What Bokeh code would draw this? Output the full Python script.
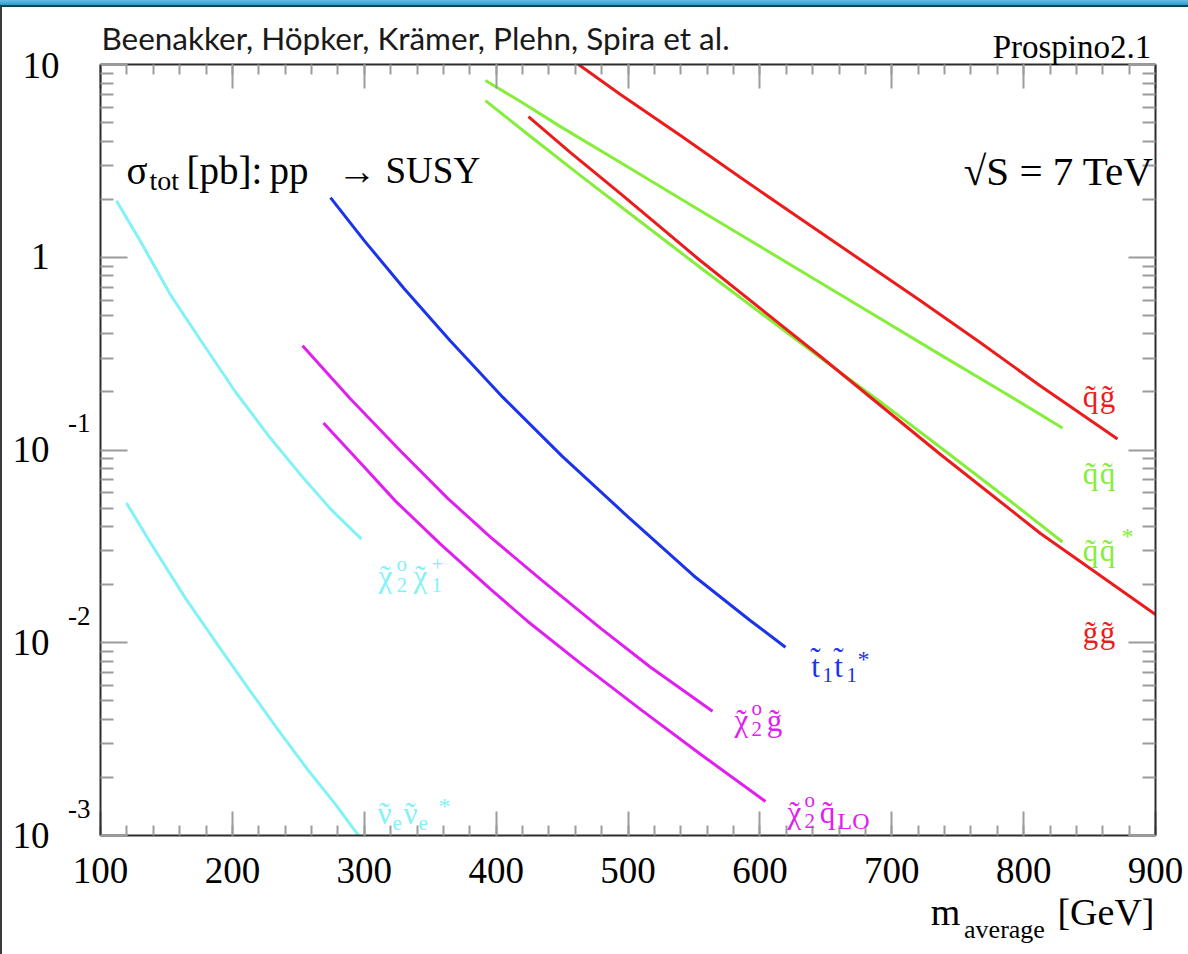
import math
from bokeh.plotting import figure
from bokeh.models import Range1d, FixedTicker, LinearAxis, LogAxis, Label, Div, CustomJSTickFormatter
from bokeh.layouts import column, row
from bokeh.embed import file_html
from bokeh.resources import INLINE

# ---------------- data ----------------
mass_qg = [462.5, 494.3, 539.8, 585.3, 630.8, 676.3, 721.8, 767.3, 812.8, 871.2]
xsec_qg = [10.0, 6.99, 4.28, 2.59, 1.585, 0.970, 0.594, 0.360, 0.215, 0.114]

mass_qq = [391.9, 418.5, 448.8, 494.3, 539.8, 585.3, 630.8, 683.9, 737.0, 782.5, 829.5]
xsec_qq = [8.26, 6.43, 4.76, 3.10, 2.01, 1.309, 0.851, 0.515, 0.3115, 0.2035, 0.1301]

mass_qqbar = [391.9, 426.1, 464.0, 509.5, 555.0, 600.5, 646.0, 691.5, 737.0, 782.5, 829.5]
xsec_qqbar = [6.50, 4.23, 2.65, 1.529, 0.882, 0.515, 0.3005, 0.1776, 0.1030, 0.0595, 0.0333]

mass_gg = [424.5, 456.4, 494.3, 555.0, 646.0, 737.0, 812.8, 900.0]
xsec_gg = [5.37, 3.49, 2.138, 0.959, 0.3055, 0.0948, 0.0369, 0.01402]

mass_stop = [274.4, 300.0, 330.0, 365.0, 405.0, 450.0, 500.0, 550.0, 592.9, 619.4]
xsec_stop = [2.038, 1.22, 0.690, 0.370, 0.188, 0.0930, 0.0450, 0.0222, 0.0130, 0.00948]

mass_n2g = [253.2, 289.6, 327.5, 363.1, 395.7, 433.6, 479.1, 517.1, 564.1]
xsec_n2g = [0.347, 0.184, 0.0988, 0.0563, 0.0353, 0.0214, 0.0119, 0.00746, 0.00441]

mass_n2q = [269.1, 297.2, 323.7, 357.8, 395.7, 423.8, 464.0, 509.5, 555.0, 604.3]
xsec_n2q = [0.1381, 0.0856, 0.0543, 0.0325, 0.01896, 0.01293, 0.00782, 0.00451, 0.00264, 0.00150]

mass_n2c1 = [112.1, 130.3, 153.0, 175.8, 202.4, 228.9, 251.7, 274.4, 297.9]
xsec_n2c1 = [1.966, 1.210, 0.640, 0.372, 0.200, 0.1150, 0.0745, 0.0495, 0.0345]

mass_snu = [119.7, 137.9, 164.5, 191.0, 213.7, 236.5, 257.0, 278.2, 295.6]
xsec_snu = [0.0531, 0.0330, 0.01700, 0.00930, 0.00560, 0.00340, 0.00220, 0.00145, 0.0010]

x_ticks = [100, 200, 300, 400, 500, 600, 700, 800, 900]
x_tick_labels = ["100", "200", "300", "400", "500", "600", "700", "800", "900"]
y_ticks = [1e-3, 1e-2, 1e-1, 1, 10]
y_exponents = ["-3", "-2", "-1"]
y_mantissa_low = ["10", "10", "10", "1"]   # for 1e-3, 1e-2, 1e-1, 1
y_mantissa_top = ["10"]                    # for 10

# ---------------- layout constants (final image pixels) ----------------
TOP_STRIP = 7
LEFT_BAR = 2
FL, FR, FT, FB = 100, 1155, 64, 835
W, H = 1188, 954

RED = "#ec1c1c"
GREEN = "#84ee3a"
BLUE = "#1b33ea"
MAG = "#e020ee"
CYAN = "#82f2f6"
SERIF = "Liberation Serif"
DEC = (FB - FT) / 4.0


def dx(xpx):
    return 100 + (xpx - FL) * 800.0 / (FR - FL)


def shift(v, px_up):
    return v * 10 ** (px_up / DEC)


p = figure(width=W - LEFT_BAR, height=H - TOP_STRIP,
           x_range=Range1d(100, 900), y_range=Range1d(1e-3, 10),
           y_axis_type="log", output_backend="svg", toolbar_location=None,
           min_border_left=FL - LEFT_BAR, min_border_right=W - FR,
           min_border_top=FT - TOP_STRIP, min_border_bottom=H - FB)
p.grid.visible = False
p.outline_line_color = None
p.background_fill_color = "white"
p.border_fill_color = "white"

xticker = FixedTicker(ticks=x_ticks, minor_ticks=list(range(100, 901, 20)))
yminor = [k * 10.0 ** e for e in range(-3, 1) for k in range(2, 10)]
yticker = FixedTicker(ticks=y_ticks, minor_ticks=yminor)


def frame_axis(ax, maj, mnr, ticker):
    ax.ticker = ticker
    ax.major_tick_in = maj
    ax.major_tick_out = 0
    ax.minor_tick_in = mnr
    ax.minor_tick_out = 0
    ax.major_tick_line_color = "#9c9c9c"
    ax.minor_tick_line_color = "#9c9c9c"
    ax.major_tick_line_width = 2
    ax.minor_tick_line_width = 2
    ax.axis_line_color = "#2d2d2d"
    ax.axis_line_width = 2
    ax.formatter = CustomJSTickFormatter(code="return ''")
    ax.major_label_standoff = 0
    ax.major_label_text_font_size = "0px"


def text_axis(ax, ticks, labels, size, standoff, font=SERIF, color="black"):
    ax.ticker = FixedTicker(ticks=ticks, minor_ticks=[])
    ax.formatter = CustomJSTickFormatter(args=dict(labs=labels), code="return labs[index]")
    ax.major_tick_in = 0
    ax.major_tick_out = 0
    ax.minor_tick_in = 0
    ax.minor_tick_out = 0
    ax.major_tick_line_color = None
    ax.minor_tick_line_color = None
    ax.axis_line_color = None
    ax.major_label_standoff = standoff
    ax.major_label_text_font = font
    ax.major_label_text_font_size = f"{size}px"
    ax.major_label_text_color = color
    return ax


frame_axis(p.xaxis[0], 24, 10, xticker)
frame_axis(p.yaxis[0], 27, 13, yticker)
top_ax = LinearAxis()
frame_axis(top_ax, 24, 10, xticker)
p.add_layout(top_ax, "above")
right_ax = LogAxis()
frame_axis(right_ax, 27, 13, yticker)
p.add_layout(right_ax, "right")

# bottom: tick labels, then axis title pieces
p.add_layout(text_axis(LinearAxis(), x_ticks, x_tick_labels, 37, 22), "below")
p.add_layout(text_axis(LinearAxis(), [dx(945), dx(1105.5)], ["m", "[GeV]"], 38, 5), "below")
p.add_layout(text_axis(LinearAxis(), [dx(1004)], ["average"], 26, -21), "below")

# left: exponents, mantissas
p.add_layout(text_axis(LogAxis(), [shift(v, 27) for v in y_ticks[:3]], y_exponents, 27, 10), "left")
p.add_layout(text_axis(LogAxis(), [shift(y_ticks[4], -1.0)], y_mantissa_top, 37, 6), "left")
p.add_layout(text_axis(LogAxis(), [shift(v, 0.4) for v in y_ticks[:4]], y_mantissa_low, 37, -30), "left")

# top: Prospino tag and authors
p.add_layout(text_axis(LinearAxis(), [dx(1071.5)], ["Prospino2.1"], 33, 0), "above")
p.add_layout(text_axis(LinearAxis(), [dx(415)], ["Beenakker, Höpker, Krämer, Plehn, Spira et al."], 31.5, -31,
                       font="Lato", color="#1a1a1a"), "above")

# ---------------- curves ----------------
LW = 3
p.line(mass_qg, xsec_qg, line_color=RED, line_width=LW)
p.line(mass_qq, xsec_qq, line_color=GREEN, line_width=LW)
p.line(mass_qqbar, xsec_qqbar, line_color=GREEN, line_width=LW)
p.line(mass_gg, xsec_gg, line_color=RED, line_width=LW)
p.line(mass_stop, xsec_stop, line_color=BLUE, line_width=LW)
p.line(mass_n2g, xsec_n2g, line_color=MAG, line_width=LW)
p.line(mass_n2q, xsec_n2q, line_color=MAG, line_width=LW)
p.line(mass_n2c1, xsec_n2c1, line_color=CYAN, line_width=LW)
p.line(mass_snu, xsec_snu, line_color=CYAN, line_width=LW)


def txt(xpx, ypx, text, size, color="black", font=SERIF, align="left"):
    # positioned in canvas pixels of the figure (origin top-left)
    p.add_layout(Label(x=xpx - LEFT_BAR, y=ypx - TOP_STRIP, x_units="canvas", y_units="canvas",
                       text=text, text_font=font,
                       text_font_size=f"{size}px", text_color=color,
                       text_align=align, text_baseline="alphabetic"))


def tl(xc, ypx, ch, size, color):
    # a letter with a tilde above it (centred)
    txt(xc, ypx, ch, size, color, align="center")
    txt(xc, ypx - (8 if ch == "t" else 0), "\u02dc", size, color, align="center")


# ---------------- in-frame titles ----------------
txt(126, 170, "σ", 39)
txt(149, 180, "tot", 28)
txt(186, 170, "[pb]:", 39)
txt(269, 170, "pp", 39)
txt(337, 170, "→", 39)
txt(385, 170, "SUSY", 37)
txt(1153, 170, "√S = 7 TeV", 41, align="right")

# ---------------- curve labels ----------------
S1, S2 = 31, 21
tl(1090, 396, "q", S1, RED); tl(1107, 396, "g", S1, RED)
tl(1090, 473, "q", S1, GREEN); tl(1107, 473, "q", S1, GREEN)
tl(1090, 550, "q", S1, GREEN); tl(1107, 550, "q", S1, GREEN)
txt(1121, 535, "*", 24, GREEN)
tl(1090, 632, "g", S1, RED); tl(1107, 632, "g", S1, RED)

tl(815, 666, "t", S1, BLUE)
txt(822, 674, "1", S2, BLUE)
tl(838, 666, "t", S1, BLUE)
txt(846, 674, "1", S2, BLUE)
txt(857, 658, "*", 24, BLUE)

tl(741, 720, "χ", S1, MAG)
txt(751, 707, "o", S2, MAG)
txt(751, 728, "2", S2, MAG)
tl(774, 720, "g", S1, MAG)

tl(794, 812, "χ", S1, MAG)
txt(804, 799, "o", S2, MAG)
txt(804, 820, "2", S2, MAG)
tl(827, 812, "q", S1, MAG)
txt(837, 820, "LO", 24, MAG)

tl(385, 576, "χ", S1, CYAN)
txt(396, 563, "o", S2, CYAN)
txt(396, 584, "2", S2, CYAN)
tl(420, 576, "χ", S1, CYAN)
txt(431, 563, "+", S2, CYAN)
txt(431, 584, "1", S2, CYAN)

tl(384, 813, "ν", S1, CYAN)
txt(392, 822, "e", S2, CYAN)
tl(410, 813, "ν", S1, CYAN)
txt(418, 822, "e", S2, CYAN)
txt(438, 805, "*", 24, CYAN)

# ---------------- page decoration ----------------
strip = Div(width=W, height=TOP_STRIP, margin=0,
            styles={"background": "linear-gradient(to bottom, #66bde6 0%, #2f9bd0 70%, #1c3d52 70%, #1c3d52 100%)"})
bar = Div(width=LEFT_BAR, height=H - TOP_STRIP, margin=0, styles={"background": "#3a3a3a"})
layout = column(strip, row(bar, p, spacing=0), spacing=0)

open("out.html", "w").write(file_html(layout, INLINE))
